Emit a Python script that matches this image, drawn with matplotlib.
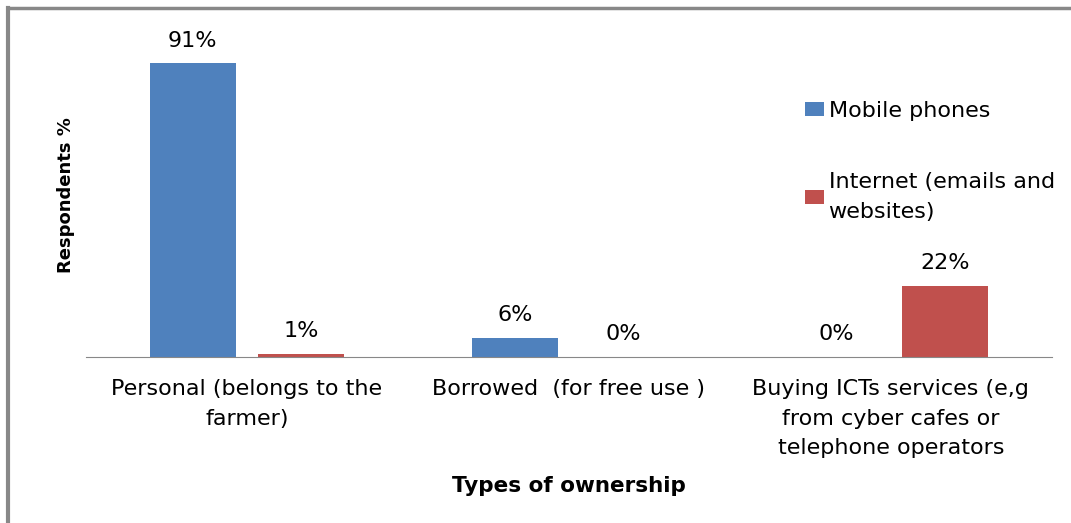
import numpy as np
import matplotlib.pyplot as plt
from matplotlib.lines import Line2D

plt.rcParams['font.family'] = ['DejaVu Sans']

categories = ['Personal (belongs to the\nfarmer)',
              'Borrowed  (for free use )',
              'Buying ICTs services (e,g\nfrom cyber cafes or\ntelephone operators']
mobile = [91, 6, 0]
internet = [1, 0, 22]
series_names = ['Mobile phones', 'Internet (emails and\nwebsites)']

BLUE = '#4F81BD'
RED = '#C0504D'

fig = plt.figure(figsize=(10.71, 5.23), dpi=100)
ax = fig.add_axes([0.0803, 0.3174, 0.9017, 0.6176])

x = np.arange(len(categories))
w = 0.267
off = 0.168

b1 = ax.bar(x - off, mobile, w, color=BLUE, label=series_names[0])
b2 = ax.bar(x + off, internet, w, color=RED, label=series_names[1])

for bars, vals in ((b1, mobile), (b2, internet)):
    for b, v in zip(bars, vals):
        ax.annotate(f'{v}%', (b.get_x() + b.get_width() / 2, v),
                    xytext=(0, 9), textcoords='offset points',
                    ha='center', va='bottom', fontsize=16)

ax.set_xlim(-0.5, 2.5)
ax.set_ylim(0, 100)
ax.set_yticks([])
ax.set_xticks(x)
ax.set_xticklabels(categories, fontsize=16, linespacing=1.6)
ax.tick_params(axis='x', length=0, pad=16)
for s in ('top', 'right', 'left'):
    ax.spines[s].set_visible(False)
ax.spines['bottom'].set_color('#888888')

ax.set_ylabel('Respondents %', fontsize=13, fontweight='bold', labelpad=8)
ax.set_xlabel('Types of ownership', fontsize=15.5, fontweight='bold', labelpad=13)

leg = ax.legend(loc='upper left', bbox_to_anchor=(0.724, 0.855), frameon=False,
                fontsize=16, handlelength=0.85, handleheight=0.65,
                handletextpad=0.2, labelspacing=2.3)
for t in leg.get_texts():
    t.set_linespacing(1.6)

# outer chart border (top and left visible)
fig.add_artist(Line2D([0.0075, 1.0], [0.9855, 0.9855], color='#888888', lw=2.5,
                      transform=fig.transFigure))
fig.add_artist(Line2D([0.0075, 0.0075], [0.0, 0.9855], color='#888888', lw=3,
                      transform=fig.transFigure))

fig.savefig('out.png', dpi=100, facecolor='white')
